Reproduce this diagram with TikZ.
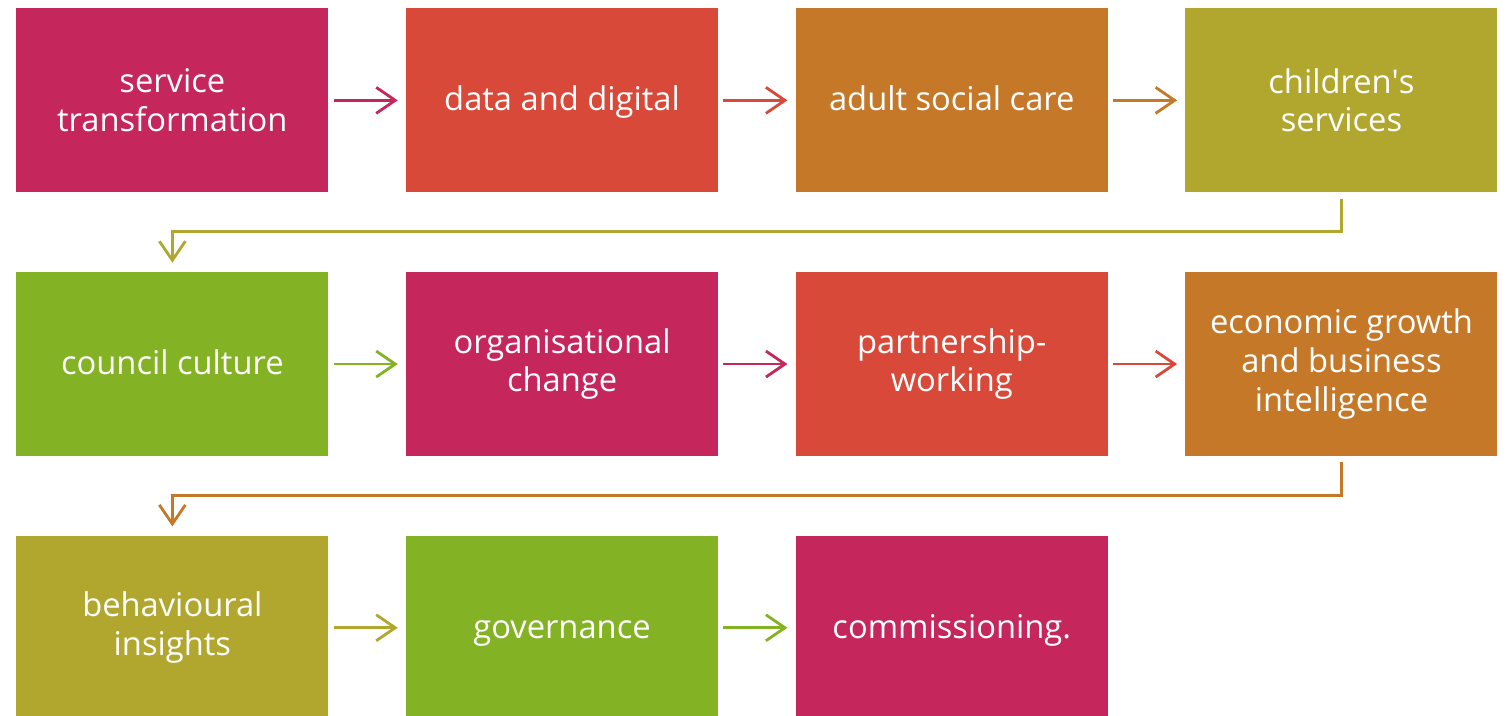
\documentclass[tikz,border=0pt]{standalone}
\usepackage{fontspec}
\setmainfont{Open Sans}
\usetikzlibrary{positioning, arrows.meta}

\definecolor{rasp}{HTML}{C5265B}
\definecolor{brick}{HTML}{D9493A}
\definecolor{amber}{HTML}{C67829}
\definecolor{olive}{HTML}{B1A72F}
\definecolor{lime}{HTML}{83B225}

\begin{document}
\begin{tikzpicture}[
                node distance=1.58cm and 1.54cm,
                box/.style={fill=#1, text=white, minimum width=6.24cm, minimum height=3.68cm,
                            inner sep=0pt, align=center, font=\fontsize{18.6}{22}\selectfont},
                oneline/.style={text height=14pt, text depth=2.3pt},
                link/.style={draw=#1, line width=1.6pt, shorten <=0.1cm, shorten >=0.16cm,
                             -{Straight Barb[length=0.38cm, width=0.52cm, line width=1.6pt]}},
                turn/.style={draw=#1, line width=1.6pt, shorten <=0.12cm, shorten >=0.18cm,
                             -{Straight Barb[length=0.38cm, width=0.52cm, line width=1.6pt]}}
            ]
                \useasboundingbox (0,0) rectangle (30.16,-14.32);

                % First row
                \node[box=rasp, anchor=north west] (service) at (0.32,-0.16) {service\\transformation};
                \node[box=brick, oneline, right=of service] (data) {data and digital};
                \node[box=amber, oneline, right=of data] (adult) {adult social care};
                \node[box=olive, right=of adult] (children) {children\textquotesingle s\\services};

                % Second row
                \node[box=lime, oneline, below=of service] (culture) {council culture};
                \node[box=rasp, right=of culture] (orgchange) {organisational\\change};
                \node[box=brick, right=of orgchange] (partner) {partnership-\\working};
                \node[box=amber, right=of partner] (growth) {economic growth\\and business\\intelligence};

                % Third row
                \node[box=olive, below=of culture] (insights) {behavioural\\insights};
                \node[box=lime, oneline, right=of insights] (governance) {governance};
                \node[box=rasp, oneline, right=of governance] (commission) {commissioning.};

                % Arrows along the rows
                \draw[link=rasp] (service) -- (data);
                \draw[link=brick] (data) -- (adult);
                \draw[link=amber] (adult) -- (children);
                \draw[link=lime] (culture) -- (orgchange);
                \draw[link=rasp] (orgchange) -- (partner);
                \draw[link=brick] (partner) -- (growth);
                \draw[link=olive] (insights) -- (governance);
                \draw[link=lime] (governance) -- (commission);

                % Arrows down to the next row
                \draw[turn=olive] (children.south) -- ++(0,-0.78) -| (culture.north);
                \draw[turn=amber] (growth.south) -- ++(0,-0.78) -| (insights.north);
            \end{tikzpicture}
\end{document}
